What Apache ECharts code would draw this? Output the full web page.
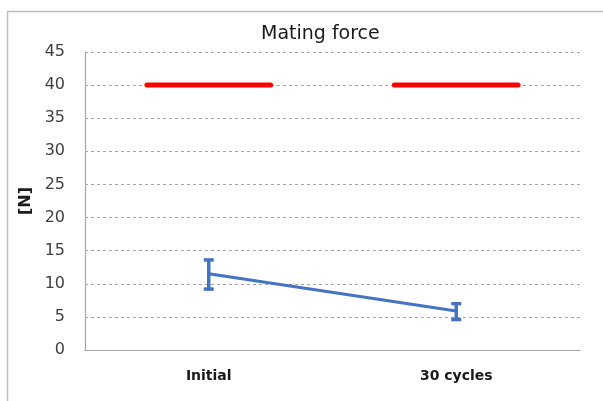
<!DOCTYPE html>
<html><head><meta charset="utf-8">
<script src="https://cdn.jsdelivr.net/npm/echarts@6/dist/echarts.min.js"></script>
<style>html,body{margin:0;padding:0;background:#fff}#c{width:603px;height:401px}</style>
</head><body><div id="c"></div>
<script>
const categories = ['Initial', '30 cycles'];
const meanValues = [11.5, 5.9];
const errLow = [9.2, 4.6];
const errHigh = [13.6, 7.0];
const specValues = [40, 40];
const yTicks = { min: 0, max: 45, interval: 5 };

const chart = echarts.init(document.getElementById('c'));
const FONT = 'DejaVu Sans';
chart.setOption({
  animation: false,
  backgroundColor: '#fff',
  title: { text: 'Mating force', left: 256, top: 20, textStyle: { fontFamily: FONT, fontSize: 19, fontWeight: 'normal', color: '#1a1a1a' } },
  graphic: [{ type: 'rect', shape: { x: 7.5, y: 11.5, width: 700, height: 500 }, style: { fill: 'none', stroke: '#bfbfbf', lineWidth: 1.5 }, silent: true }],
  grid: { left: 85, right: 23, top: 52, bottom: 51 },
  xAxis: {
    type: 'category', data: categories, boundaryGap: true,
    axisLine: { lineStyle: { color: '#a6a6a6', width: 1.2 } },
    axisTick: { show: false },
    axisLabel: { fontFamily: FONT, fontSize: 14, fontWeight: 'bold', color: '#1a1a1a', margin: 19 }
  },
  yAxis: {
    type: 'value', min: yTicks.min, max: yTicks.max, interval: yTicks.interval,
    name: '[N]', nameLocation: 'middle', nameGap: 50, nameRotate: 90,
    nameTextStyle: { fontFamily: FONT, fontSize: 16, fontWeight: 'bold', color: '#1a1a1a' },
    axisLine: { show: true, lineStyle: { color: '#a6a6a6', width: 1.2 } },
    axisTick: { show: false },
    axisLabel: { fontFamily: FONT, fontSize: 16, color: '#404040', margin: 20 },
    splitLine: { lineStyle: { color: '#a6a6a6', type: [3, 3], width: 1 } }
  },
  series: [
    {
      type: 'custom',
      data: categories.map((c, i) => [i, specValues[i]]),
      renderItem: function (params, api) {
        const p = api.coord([api.value(0), api.value(1)]);
        const w = api.size([1, 0])[0];
        return { type: 'line', shape: { x1: p[0] - w * 0.25, y1: p[1], x2: p[0] + w * 0.25, y2: p[1] },
          style: { stroke: '#ff0000', lineWidth: 5, lineCap: 'round' } };
      },
      z: 3
    },
    {
      type: 'line', data: meanValues, symbol: 'none',
      lineStyle: { color: '#4472c4', width: 3 }, z: 4
    },
    {
      type: 'custom',
      data: categories.map((c, i) => [i, errLow[i], errHigh[i]]),
      renderItem: function (params, api) {
        const lo = api.coord([api.value(0), api.value(1)]);
        const hi = api.coord([api.value(0), api.value(2)]);
        const hw = 5;
        const st = { stroke: '#4472c4', lineWidth: 3.5 };
        return { type: 'group', children: [
          { type: 'line', shape: { x1: lo[0], y1: lo[1], x2: hi[0], y2: hi[1] }, style: st },
          { type: 'line', shape: { x1: lo[0] - hw, y1: lo[1], x2: lo[0] + hw, y2: lo[1] }, style: st },
          { type: 'line', shape: { x1: hi[0] - hw, y1: hi[1], x2: hi[0] + hw, y2: hi[1] }, style: st }
        ] };
      },
      z: 5
    }
  ]
});
</script></body></html>
